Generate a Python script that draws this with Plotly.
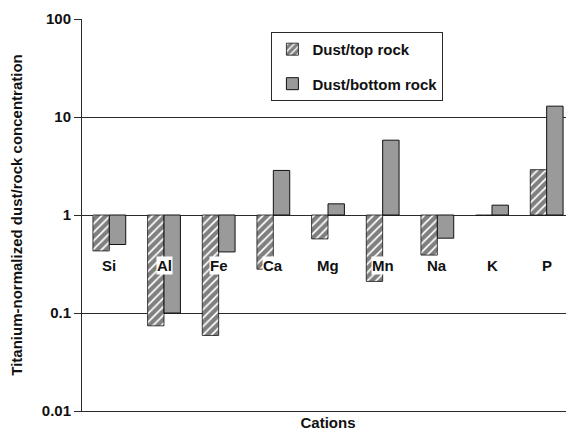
import plotly.graph_objects as go

categories = ["Si", "Al", "Fe", "Ca", "Mg", "Mn", "Na", "K", "P"]
dust_top_rock = [0.43, 0.074, 0.059, 0.28, 0.57, 0.21, 0.39, 0.99, 2.9]
dust_bottom_rock = [0.50, 0.10, 0.42, 2.85, 1.30, 5.8, 0.58, 1.26, 12.9]
ytick_vals = [0.01, 0.1, 1, 10, 100]
ytick_text = ["0.01", "0.1", "1", "10", "100"]

BASE = 1.0
FONT = "Liberation Sans, Arial, sans-serif"
LINE = "#2a2a2a"

fig = go.Figure()
fig.add_trace(go.Bar(
    x=categories, y=[v - BASE for v in dust_top_rock], base=BASE,
    name="Dust/top rock", legendgroup="a",
    marker=dict(color="white", line=dict(color="#111111", width=0.8),
                pattern=dict(shape="/", fgcolor="#000000", bgcolor="white",
                             size=6, solidity=0.7)),
    hoverinfo="skip",
))
fig.add_trace(go.Bar(
    x=categories, y=[v - BASE for v in dust_bottom_rock], base=BASE,
    name="Dust/bottom rock", legendgroup="b",
    marker=dict(color="#9a9a9a", line=dict(color="#111111", width=1)),
    hoverinfo="skip",
))

# category labels with white background, placed below the y=1 axis
for c in categories:
    fig.add_annotation(x=c, xref="x", y=0.372, yref="paper", text=c,
                       showarrow=False, bgcolor="white",
                       font=dict(family=FONT, size=15, color="#111111", weight="bold"),
                       borderpad=0)

# page body has an 8px margin, so the figure is sized to fill the window from there
fig.update_layout(
    width=566, height=431,
    margin=dict(l=74, r=0, t=11, b=28, autoexpand=False),
    paper_bgcolor="white", plot_bgcolor="white",
    barmode="group", bargap=0.4, bargroupgap=0,
    font=dict(family=FONT, size=13, color="#111111"),
    showlegend=True,
    legend=dict(x=0.385, y=0.967, xanchor="left", yanchor="top",
                bordercolor=LINE, borderwidth=1, bgcolor="white",
                font=dict(family=FONT, size=15, color="#111111", weight="bold"),
                tracegroupgap=12, itemwidth=30),
    xaxis=dict(type="category", range=[-0.5, 8.5], showticklabels=False,
               showline=True, linecolor=LINE, linewidth=1, ticks="",
               showgrid=False, zeroline=False, automargin=False,
               title=dict(text="Cations", standoff=6,
                          font=dict(family=FONT, size=15, weight="bold"))),
    xaxis2=dict(type="linear", range=[-0.5, 8.5], overlaying="x", anchor="free",
                position=0.5, showline=True, linecolor=LINE, linewidth=1,
                tickmode="array", tickvals=[i + 0.5 for i in range(len(categories) - 1)],
                ticks="outside", ticklen=5, tickcolor=LINE, showticklabels=False,
                showgrid=False, zeroline=False),
    yaxis=dict(type="log", range=[-2, 2], tickmode="array",
               tickvals=ytick_vals, ticktext=ytick_text, automargin=False,
               ticks="outside", ticklen=7, tickcolor=LINE,
               showline=True, linecolor=LINE, linewidth=1,
               showgrid=True, gridcolor=LINE, gridwidth=1, zeroline=False,
               tickfont=dict(family=FONT, size=15, weight="bold"),
               title=dict(text="Titanium-normalized dust/rock concentration", standoff=19,
                          font=dict(family=FONT, size=15, weight="bold"))),
)

fig.write_html("out.html")
